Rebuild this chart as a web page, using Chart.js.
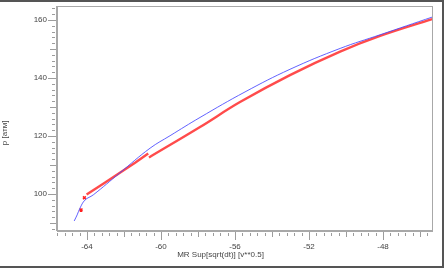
<!DOCTYPE html>
<html>
<head>
<meta charset="utf-8">
<script src="https://cdn.jsdelivr.net/npm/chart.js@4.4.1/dist/chart.umd.min.js"></script>
<style>
    html, body { margin: 0; padding: 0; background: #fff; overflow: hidden; }
    #wrap { position: relative; width: 446px; height: 269px; }
    #frame { position: absolute; left: -3px; top: 0; width: 447px; height: 268px; border: 2px solid #555; box-sizing: border-box; pointer-events: none; }
</style>
</head>
<body>
<div id="wrap">
    <canvas id="chart" width="446" height="269"></canvas>
    <div id="frame"></div>
</div>
<script>
// blue curve (MR Sup vs p)
const blueX = [-64.69, -64.53, -64.38, -64.11, -63.66, -62.22, -60.59, -59.51, -57.89, -55.46, -53.03, -50.32, -48.16, -45.30];
const blueP = [90.7, 92.8, 95.1, 97.9, 99.7, 107.3, 115.8, 120.1, 126.4, 135.2, 143.0, 150.2, 154.9, 161.1];

// red markers, first run
const redX1 = [-64.02, -63.10, -62.22, -61.40, -60.69];
const redP1 = [99.8, 103.6, 107.3, 110.8, 114.0];

// red markers, second run
const redX2 = [-60.65, -57.89, -55.73, -53.03, -50.32, -48.16, -45.35];
const redP2 = [112.6, 123.1, 131.7, 141.0, 149.1, 154.5, 160.3];

// two lone red points at the start
const redLoneX = [-64.32, -64.14];
const redLoneP = [94.5, 98.7];

const xTickLabels = [-64, -60, -56, -52, -48];
const yTickLabels = [100, 120, 140, 160];
const xMinorStep = 0.4;
const yMinorStep = 2;

const toPts = (xs, ys) => xs.map((v, i) => ({ x: v, y: ys[i] }));

const FONT = { family: "'Liberation Sans', Arial, sans-serif", size: 8 };
const TEXT = '#444';

// tick marks + plot box, positioned from the chart's own scales
const axisMarks = {
    id: 'axisMarks',
    afterDraw(chart) {
        const { ctx, chartArea: a, scales: { x, y } } = chart;
        ctx.save();
        ctx.strokeStyle = '#a8a8a8';
        ctx.lineWidth = 1;
        ctx.strokeRect(a.left + 0.5, a.top + 0.5, a.right - a.left - 1, a.bottom - a.top - 1);
        ctx.beginPath();
        ctx.moveTo(a.left - 0.5, a.top);
        ctx.lineTo(a.left - 0.5, a.bottom);
        ctx.moveTo(a.left, a.bottom + 0.5);
        ctx.lineTo(a.right, a.bottom + 0.5);
        ctx.stroke();

        ctx.strokeStyle = '#9c9c9c';
        ctx.beginPath();
        const kx0 = Math.ceil(x.min / xMinorStep), kx1 = Math.floor(x.max / xMinorStep);
        for (let k = kx0; k <= kx1; k++) {
            const px = Math.round(x.getPixelForValue(k * xMinorStep)) + 0.5;
            let y0 = a.bottom + 2, y1 = a.bottom + 5;
            if (k % 10 === 0) { y0 = a.bottom + 1; y1 = a.bottom + 9; }
            else if (k % 5 === 0) { y0 = a.bottom + 1; y1 = a.bottom + 6; }
            ctx.moveTo(px, y0);
            ctx.lineTo(px, y1);
        }
        const ky0 = Math.ceil(y.min / yMinorStep), ky1 = Math.floor(y.max / yMinorStep);
        for (let k = ky0; k <= ky1; k++) {
            const py = Math.round(y.getPixelForValue(k * yMinorStep)) + 0.5;
            let x0 = a.left - 5, x1 = a.left - 2;
            if (k % 10 === 0) { x0 = a.left - 9; x1 = a.left - 1; }
            else if (k % 5 === 0) { x0 = a.left - 7; x1 = a.left - 1; }
            ctx.moveTo(x0, py);
            ctx.lineTo(x1, py);
        }
        ctx.stroke();
        ctx.restore();
    }
};

const noPad = s => { s.paddingTop = 0; s.paddingBottom = 0; s.paddingLeft = 0; s.paddingRight = 0; };

new Chart(document.getElementById('chart'), {
    type: 'scatter',
    data: {
        datasets: [
            {
                data: toPts(blueX, blueP),
                showLine: true,
                borderColor: 'rgba(70, 70, 255, 0.85)',
                borderWidth: 1,
                pointRadius: 0,
                tension: 0.4
            },
            {
                data: toPts(redX1, redP1),
                showLine: true,
                borderColor: 'rgba(255, 35, 35, 0.82)',
                borderWidth: 2.4,
                pointRadius: 0
            },
            {
                data: toPts(redX2, redP2),
                showLine: true,
                borderColor: 'rgba(255, 35, 35, 0.82)',
                borderWidth: 2.4,
                pointRadius: 0,
                tension: 0.4
            },
            {
                data: toPts(redLoneX, redLoneP),
                showLine: false,
                pointStyle: 'crossRot',
                pointRadius: 2,
                borderColor: '#ff2020',
                borderWidth: 1.5
            }
        ]
    },
    options: {
        responsive: false,
        animation: false,
        events: [],
        layout: { padding: { top: 6, right: 5, bottom: 9.2, left: 0 } },
        plugins: {
            legend: { display: false },
            tooltip: { enabled: false },
            title: {
                display: true,
                position: 'bottom',
                text: 'MR Sup[sqrt(dt)] [v**0.5]',
                color: TEXT,
                font: { ...FONT, weight: 'normal' },
                padding: 0
            },
            subtitle: {
                display: true,
                position: 'left',
                text: 'p [атм]',
                color: TEXT,
                font: FONT,
                padding: 0
            }
        },
        scales: {
            x: {
                type: 'linear',
                min: -65.62,
                max: -45.3,
                afterBuildTicks: s => { s.ticks = xTickLabels.map(v => ({ value: v })); },
                afterFit: s => { s.height = 19.2; noPad(s); },
                grid: { display: false, drawTicks: false },
                border: { display: false },
                ticks: { color: TEXT, font: FONT, padding: 11, maxRotation: 0 }
            },
            y: {
                type: 'linear',
                min: 87.24,
                max: 164.83,
                afterBuildTicks: s => { s.ticks = yTickLabels.map(v => ({ value: v })); },
                afterFit: s => { s.width = 47.4; noPad(s); },
                grid: { display: false, drawTicks: false },
                border: { display: false },
                ticks: { color: TEXT, font: FONT, padding: 10 }
            },
            y2: {
                type: 'linear',
                position: 'right',
                min: 0,
                max: 1,
                afterFit: s => { s.width = 8; noPad(s); },
                grid: { display: false, drawTicks: false },
                border: { display: false },
                ticks: { display: false }
            }
        }
    },
    plugins: [axisMarks]
});
</script>
</body>
</html>
